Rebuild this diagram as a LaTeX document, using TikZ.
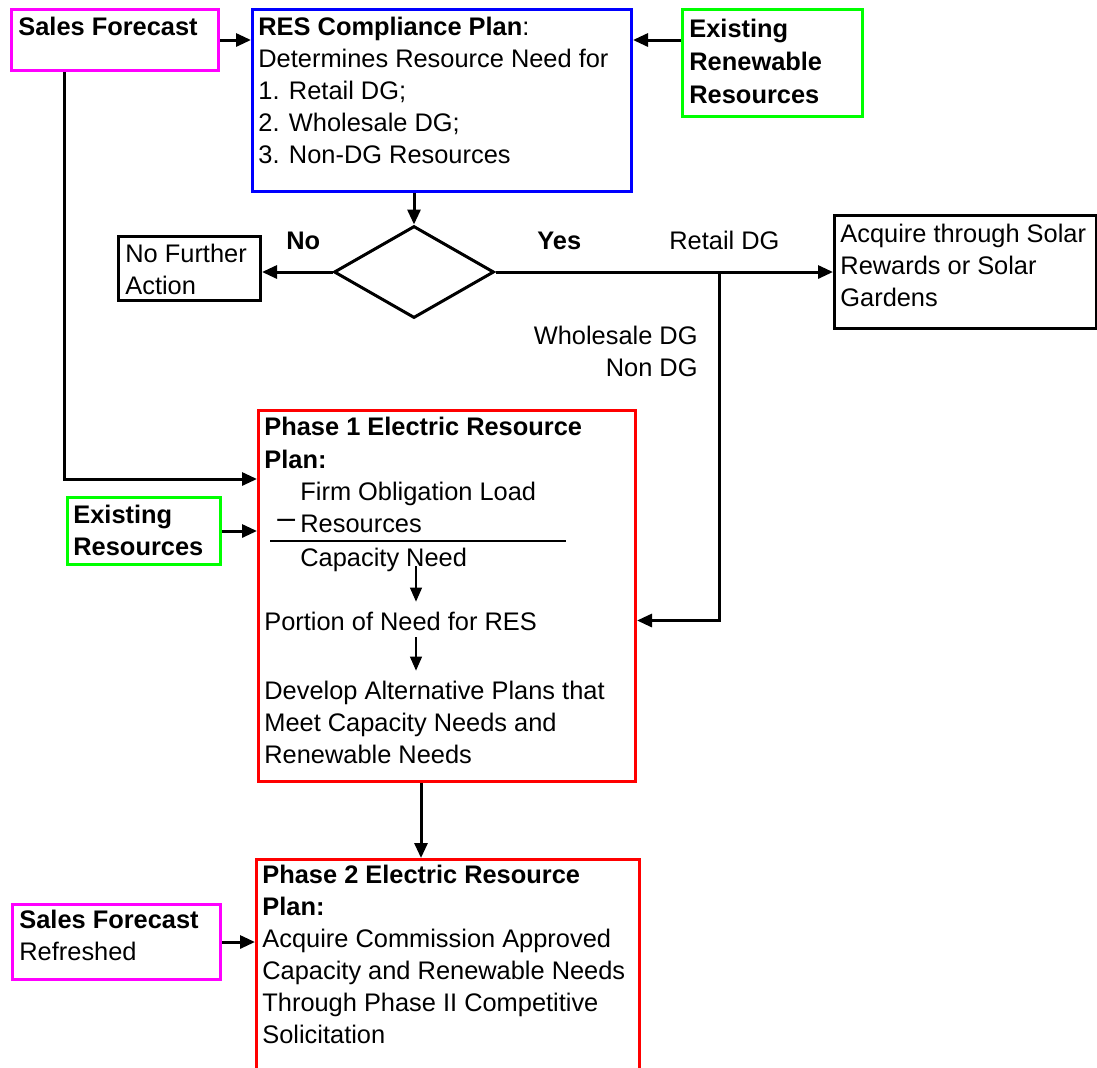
\documentclass[tikz,border=0pt]{standalone}
\usepackage{fontspec}
\setmainfont{Liberation Sans}
\usetikzlibrary{positioning,shapes.geometric,arrows.meta}
\definecolor{mg}{RGB}{255,0,255}
\definecolor{gn}{RGB}{0,255,0}
\definecolor{bu}{RGB}{0,0,255}
\definecolor{rd}{RGB}{255,0,0}
\newcommand{\lnht}{\rule{0pt}{11.2pt}}
\begin{document}
\begin{tikzpicture}[x=0.5pt,y=-0.5pt,font=\fontsize{12.7}{16}\selectfont,
bx/.style={draw,line width=1.5pt,anchor=north west,inner sep=0pt},
fc/.style={bx,draw=mg},rp/.style={bx,draw=bu},
ex/.style={bx,draw=gn},ph/.style={bx,draw=rd},
tx/.style={anchor=north west,align=left,inner sep=3pt},
lb/.style={anchor=base west,inner sep=0pt},
ar/.style={line width=1.5pt,-{Triangle[length=7.5pt,width=6.5pt]}},
sar/.style={line width=0.6pt,-{Triangle[length=7pt,width=6pt]}}]
\useasboundingbox (0,0) rectangle (1097,1067);
\node[fc,minimum width=103.5pt,minimum height=30.5pt] (sf) at (10,8) {};
\node[tx] (sft) at (12,6.6) {\lnht\textbf{Sales Forecast}};
\node[rp,minimum width=189.5pt,minimum height=91pt] (res) at (251,8) {};
\node[tx] (rest) at (252,6.6) {\lnht\textbf{RES Compliance Plan}:\\
Determines Resource Need for\\1. Retail DG;\\2. Wholesale DG;\\
3. Non-DG Resources};
\node[ex,minimum width=90pt,minimum height=53.5pt] (err) at (681,8) {};
\node[tx,font=\fontsize{12.7}{16.6}\selectfont\bfseries] (errt) at (683,8.6)
{\lnht Existing\\Renewable\\Resources};
\node[draw,diamond,line width=1.5pt,minimum width=80pt,minimum height=46pt,
inner sep=0pt] (dia) at (414,272) {};
\node[bx,minimum width=71pt,minimum height=32pt] (nfa) at (117,235) {};
\node[tx] (nfat) at (119,233.6) {\lnht No Further\\Action};
\node[lb] (no) at (286,249) {\textbf{No}};
\node[lb] (yes) at (537,249) {\textbf{Yes}};
\node[lb] (rdg) at (669,249) {Retail DG};
\node[tx,anchor=north east,align=right] (wdg) at (704,315.6)
{\lnht Wholesale DG\\Non DG};
\node[bx,minimum width=131pt,minimum height=56.5pt] (acq) at (833,214) {};
\node[tx] (acqt) at (834,213.6) {\lnht Acquire through Solar\\
Rewards or Solar\\Gardens};
\node[ph,minimum width=188.5pt,minimum height=185.5pt] (ph1) at (257,409) {};
\node[tx,font=\fontsize{12.7}{16.5}\selectfont\bfseries] (ph1t) at (258,406.6)
{\lnht Phase 1 Electric Resource\\Plan:};
\node[tx] (firm) at (294,471.6) {\lnht Firm Obligation Load\\Resources};
\node[lb,font=\fontsize{16}{16}\selectfont] (mn) at (277,528) {–};
\draw[line width=0.75pt] (270,541) -- (566,541);
\node[tx] (cap) at (294,537.6) {\lnht Capacity Need};
\node[tx] (por) at (258,601.6) {\lnht Portion of Need for RES};
\node[tx] (dev) at (258,670.6) {\lnht Develop Alternative Plans that\\
Meet Capacity Needs and\\Renewable Needs};
\node[ex,minimum width=76.5pt,minimum height=33.5pt] (er) at (66,496) {};
\node[tx,font=\fontsize{12.7}{16}\selectfont\bfseries] (ert) at (67,494.6)
{\lnht Existing\\Resources};
\node[ph,minimum width=191.5pt,minimum height=105pt] (ph2) at (255,858) {};
\node[tx] (ph2t) at (256,854.6) {\lnht\textbf{Phase 2 Electric Resource}\\
\textbf{Plan:}\\Acquire Commission Approved\\Capacity and Renewable Needs\\
Through Phase II Competitive\\Solicitation};
\node[fc,minimum width=104pt,minimum height=37.5pt] (sfr) at (11,903) {};
\node[tx] (sfrt) at (13,899.6) {\lnht\textbf{Sales Forecast}\\Refreshed};
\coordinate (br) at (719,272);
\coordinate (ia) at (416,0);
\draw[ar] (sf.east) -- (sf.east -| res.west);
\draw[ar] (sf.east -| err.west) -- (sf.east -| res.east);
\draw[ar] (res.south -| dia.north) -- (dia.north);
\draw[ar] (dia.west) -- (dia.west -| nfa.east);
\draw[ar] (dia.east) -- (dia.east -| acq.west);
\draw[ar] (br) |- ([yshift=-12.25pt]ph1.east);
\draw[ar] (sf.south -| 64,0) |- (ph1.west |- 0,479);
\draw[ar] (er.east) -- (er.east -| ph1.west);
\draw[sar] (cap.base -| ia) -- (por.north -| ia);
\draw[sar] (por.south -| ia) -- (dev.north -| ia);
\draw[ar] (ph1.south -| 421,0) -- (ph2.north -| 421,0);
\draw[ar] (sfr.east) -- (sfr.east -| ph2.west);
\end{tikzpicture}
\end{document}
